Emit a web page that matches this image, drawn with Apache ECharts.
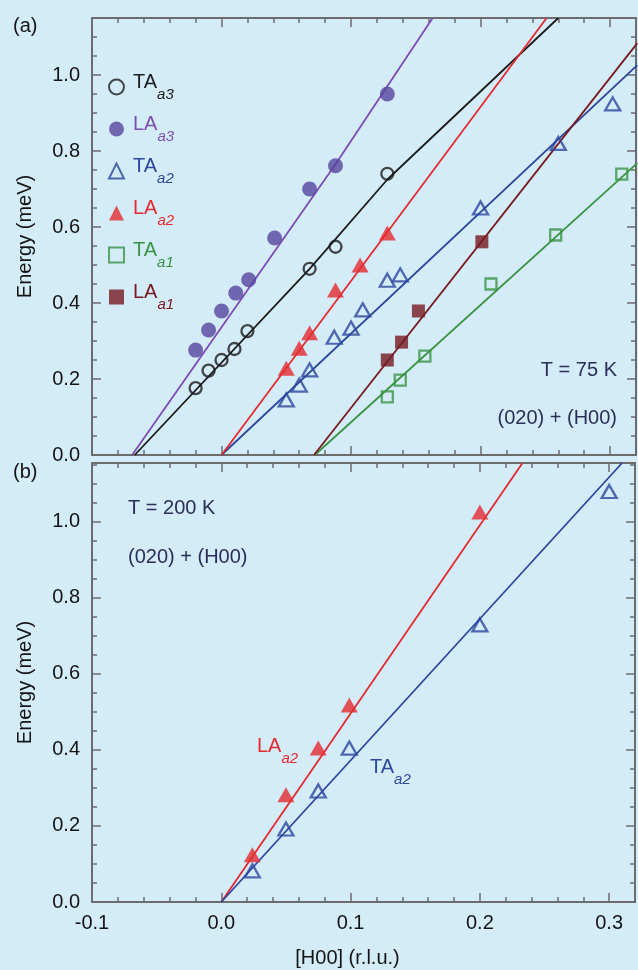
<!DOCTYPE html>
<html>
<head>
<meta charset="utf-8">
<script src="https://cdn.jsdelivr.net/npm/echarts@6/dist/echarts.min.js"></script>
<style>
html,body{margin:0;padding:0;background:#d4ecf8;}
#chart{width:638px;height:970px;}
</style>
</head>
<body>
<div id="chart"></div>
<script>
// ---------- Data ----------
// Panel (a), T = 75 K
const taA3X = [-0.02, -0.01, 0.0, 0.01, 0.02, 0.068, 0.088, 0.128];
const taA3Y = [0.176, 0.222, 0.25, 0.279, 0.326, 0.49, 0.548, 0.74];
const laA3X = [-0.02, -0.01, 0.0, 0.011, 0.021, 0.041, 0.068, 0.088, 0.128];
const laA3Y = [0.276, 0.329, 0.379, 0.426, 0.461, 0.571, 0.70, 0.761, 0.95];
const taA2X = [0.05, 0.06, 0.068, 0.087, 0.1, 0.109, 0.128, 0.138, 0.2, 0.26, 0.302];
const taA2Y = [0.145, 0.184, 0.224, 0.31, 0.334, 0.382, 0.46, 0.474, 0.65, 0.82, 0.924];
const laA2X = [0.05, 0.06, 0.068, 0.088, 0.107, 0.128];
const laA2Y = [0.228, 0.281, 0.322, 0.434, 0.5, 0.584];
const taA1X = [0.128, 0.138, 0.157, 0.208, 0.258, 0.309];
const taA1Y = [0.153, 0.197, 0.26, 0.45, 0.579, 0.739];
const laA1X = [0.128, 0.139, 0.152, 0.201];
const laA1Y = [0.25, 0.297, 0.379, 0.561];

// Fitted dispersion lines, panel (a)
const taA3FitX = [-0.067, 0.068, 0.128, 0.26];
const taA3FitY = [0.0, 0.49, 0.725, 1.15];
const laA3FitX = [-0.069, 0.088, 0.163];
const laA3FitY = [0.0, 0.765, 1.15];
const taA2FitX = [0.0, 0.321];
const taA2FitY = [0.0, 1.026];
const laA2FitX = [0.0, 0.251];
const laA2FitY = [0.0, 1.15];
const taA1FitX = [0.072, 0.321];
const taA1FitY = [0.0, 0.768];
const laA1FitX = [0.0714, 0.321];
const laA1FitY = [0.0, 1.084];

// Panel (b), T = 200 K
const bLaA2X = [0.024, 0.05, 0.075, 0.099, 0.2];
const bLaA2Y = [0.124, 0.282, 0.405, 0.518, 1.026];
const bTaA2X = [0.024, 0.05, 0.075, 0.099, 0.2, 0.3];
const bTaA2Y = [0.082, 0.192, 0.292, 0.405, 0.729, 1.08];
const bLaA2FitX = [0.0, 0.233];
const bLaA2FitY = [0.0, 1.155];
const bTaA2FitX = [0.0, 0.31];
const bTaA2FitY = [0.0, 1.155];

// Axis ranges and tick steps
const xMin = -0.1, xMax = 0.32;
const yMaxA = 1.15, yMaxB = 1.155;
const xMajor = 0.1, xMinor = 0.02, yMajor = 0.2, yMinor = 0.05;

// Legend names
const legendNames = ['TA_a3', 'LA_a3', 'TA_a2', 'LA_a2', 'TA_a1', 'LA_a1'];
const legendLabels = { TA_a3: ['TA', 'a3'], LA_a3: ['LA', 'a3'], TA_a2: ['TA', 'a2'], LA_a2: ['LA', 'a2'], TA_a1: ['TA', 'a1'], LA_a1: ['LA', 'a1'] };

// ---------- Styles ----------
const FONT = "'Liberation Sans', Arial, sans-serif";
const BG = '#d4ecf8';
const AX = '#6c6c6c';
const TXT = '#141414';
const NAVY = '#2b2e58';
const COL = {
  black: '#1c1c1c', purpleM: '#56449c', purpleL: '#7b4db4', purpleT: '#7a4fb2',
  blue: '#2c479d', red: '#e32a30', green: '#3a9343', dred: '#761a1f'
};

const zip = (xs, ys) => xs.map((x, i) => [x, ys[i]]);
const isMult = (v, step) => Math.abs(v / step - Math.round(v / step)) < 1e-6;

const richSub = {
  m: { fontSize: 20, lineHeight: 20, verticalAlign: 'top', fontFamily: FONT, padding: [0, 0, 0, 4] },
  s: { fontSize: 15, lineHeight: 30, verticalAlign: 'bottom', fontStyle: 'italic', fontFamily: FONT }
};
const richPlain = {
  m: { fontSize: 20, lineHeight: 20, verticalAlign: 'top', fontFamily: FONT },
  s: { fontSize: 15, lineHeight: 30, verticalAlign: 'bottom', fontStyle: 'italic', fontFamily: FONT }
};

function xAxes(g, labels, name) {
  const base = { gridIndex: g, type: 'value', min: xMin, max: xMax, splitLine: { show: false } };
  const tick = (len) => ({ inside: true, length: len, lineStyle: { color: AX, width: 1.5 } });
  const line = { onZero: false, lineStyle: { color: AX, width: 2 } };
  const major = Object.assign({}, base, {
    position: 'bottom', interval: xMajor, axisLine: line, axisTick: tick(9),
    axisLabel: { show: labels, margin: 11, fontSize: 20, color: TXT, fontFamily: FONT,
      formatter: v => isMult(v, xMajor) ? v.toFixed(1) : '' }
  });
  if (name) {
    Object.assign(major, { name: name, nameLocation: 'middle', nameGap: 46,
      nameTextStyle: { fontSize: 20, color: TXT, fontFamily: FONT, padding: [0, 32, 0, 0] } });
  }
  return [
    major,
    Object.assign({}, base, { position: 'bottom', interval: xMinor, axisLine: { show: false, onZero: false }, axisTick: tick(5), axisLabel: { show: false } }),
    Object.assign({}, base, { position: 'top', interval: xMajor, axisLine: line, axisTick: tick(9), axisLabel: { show: false } }),
    Object.assign({}, base, { position: 'top', interval: xMinor, axisLine: { show: false, onZero: false }, axisTick: tick(5), axisLabel: { show: false } })
  ];
}

function yAxes(g, yMax) {
  const base = { gridIndex: g, type: 'value', min: 0, max: yMax, splitLine: { show: false } };
  const tick = (len) => ({ inside: true, length: len, lineStyle: { color: AX, width: 1.5 } });
  const line = { onZero: false, lineStyle: { color: AX, width: 2 } };
  return [
    Object.assign({}, base, {
      position: 'left', interval: yMajor, axisLine: line, axisTick: tick(9),
      axisLabel: { margin: 12, fontSize: 20, color: TXT, fontFamily: FONT,
        formatter: v => isMult(v, yMajor) ? v.toFixed(1) : '' },
      name: 'Energy (meV)', nameLocation: 'middle', nameGap: 57,
      nameTextStyle: { fontSize: 20, color: TXT, fontFamily: FONT }
    }),
    Object.assign({}, base, { position: 'left', interval: yMinor, axisLine: { show: false, onZero: false }, axisTick: tick(5), axisLabel: { show: false } }),
    Object.assign({}, base, { position: 'right', interval: yMajor, axisLine: line, axisTick: tick(9), axisLabel: { show: false } }),
    Object.assign({}, base, { position: 'right', interval: yMinor, axisLine: { show: false, onZero: false }, axisTick: tick(5), axisLabel: { show: false } })
  ];
}

function scatter(name, xs, ys, symbol, size, color, open, axis) {
  return {
    name: name, type: 'scatter', xAxisIndex: axis, yAxisIndex: axis, z: 4,
    symbol: symbol, symbolSize: size, data: zip(xs, ys),
    itemStyle: open ? { color: 'rgba(0,0,0,0)', borderColor: color, borderWidth: 2.3 } : { color: color },
    emphasis: { disabled: true }, silent: true
  };
}
function fit(name, xs, ys, color, axis) {
  return {
    name: name, type: 'line', xAxisIndex: axis, yAxisIndex: axis, z: 3,
    symbol: 'none', showSymbol: false, data: zip(xs, ys),
    lineStyle: { color: color, width: 1.8 }, emphasis: { disabled: true }, silent: true
  };
}

const legendColors = { TA_a3: COL.black, LA_a3: COL.purpleT, TA_a2: COL.blue, LA_a2: COL.red, TA_a1: COL.green, LA_a1: COL.dred };

const option = {
  backgroundColor: BG,
  animation: false,
  grid: [
    { left: 92, top: 18, width: 544, height: 437 },
    { left: 92, top: 463, width: 544, height: 439 }
  ],
  xAxis: xAxes(0, false, null).concat(xAxes(1, true, '[H00] (r.l.u.)')),
  yAxis: yAxes(0, yMaxA).concat(yAxes(1, yMaxB)),
  legend: {
    orient: 'vertical', left: 103, top: 67, itemGap: 12, itemWidth: 15, itemHeight: 15,
    selectedMode: false,
    data: legendNames.map(n => ({ name: n, textStyle: { color: legendColors[n], rich: richSub } })),
    textStyle: { fontSize: 20, fontFamily: FONT, rich: richSub },
    formatter: n => '{m|' + legendLabels[n][0] + '}{s|' + legendLabels[n][1] + '}'
  },
  graphic: [
    { type: 'text', left: 13, top: 16, style: { text: '(a)', fontSize: 20, fill: TXT, fontFamily: FONT } },
    { type: 'text', left: 13, top: 462, style: { text: '(b)', fontSize: 20, fill: TXT, fontFamily: FONT } },
    { type: 'text', x: 617, y: 370, style: { text: 'T = 75 K', align: 'right', verticalAlign: 'middle', fontSize: 20, fill: NAVY, fontFamily: FONT } },
    { type: 'text', x: 617, y: 418, style: { text: '(020) + (H00)', align: 'right', verticalAlign: 'middle', fontSize: 20, fill: NAVY, fontFamily: FONT } },
    { type: 'text', x: 128, y: 508, style: { text: 'T = 200 K', align: 'left', verticalAlign: 'middle', fontSize: 20, fill: NAVY, fontFamily: FONT } },
    { type: 'text', x: 128, y: 557, style: { text: '(020) + (H00)', align: 'left', verticalAlign: 'middle', fontSize: 20, fill: NAVY, fontFamily: FONT } },
    { type: 'text', x: 257, y: 751, style: { text: '{m|LA}{s|a2}', rich: richPlain, align: 'left', verticalAlign: 'middle', fill: COL.red, fontSize: 20, fontFamily: FONT } },
    { type: 'text', x: 370, y: 772, style: { text: '{m|TA}{s|a2}', rich: richPlain, align: 'left', verticalAlign: 'middle', fill: COL.blue, fontSize: 20, fontFamily: FONT } }
  ],
  series: [
    fit('fit TA_a3', taA3FitX, taA3FitY, COL.black, 0),
    fit('fit LA_a3', laA3FitX, laA3FitY, COL.purpleL, 0),
    fit('fit TA_a2', taA2FitX, taA2FitY, COL.blue, 0),
    fit('fit LA_a2', laA2FitX, laA2FitY, COL.red, 0),
    fit('fit TA_a1', taA1FitX, taA1FitY, COL.green, 0),
    fit('fit LA_a1', laA1FitX, laA1FitY, COL.dred, 0),
    scatter('TA_a3', taA3X, taA3Y, 'circle', 12, COL.black, true, 0),
    scatter('LA_a3', laA3X, laA3Y, 'circle', 15, COL.purpleM, false, 0),
    scatter('TA_a2', taA2X, taA2Y, 'triangle', [15, 13], COL.blue, true, 0),
    scatter('LA_a2', laA2X, laA2Y, 'triangle', [17, 15], COL.red, false, 0),
    scatter('TA_a1', taA1X, taA1Y, 'rect', 11, COL.green, true, 0),
    scatter('LA_a1', laA1X, laA1Y, 'rect', 13, COL.dred, false, 0),
    fit('b fit LA_a2', bLaA2FitX, bLaA2FitY, COL.red, 4),
    fit('b fit TA_a2', bTaA2FitX, bTaA2FitY, COL.blue, 4),
    scatter('b LA_a2', bLaA2X, bLaA2Y, 'triangle', [17, 15], COL.red, false, 4),
    scatter('b TA_a2', bTaA2X, bTaA2Y, 'triangle', [15, 13], COL.blue, true, 4)
  ]
};

const chart = echarts.init(document.getElementById('chart'), null, { renderer: 'canvas' });
chart.setOption(option);
</script>
</body>
</html>
